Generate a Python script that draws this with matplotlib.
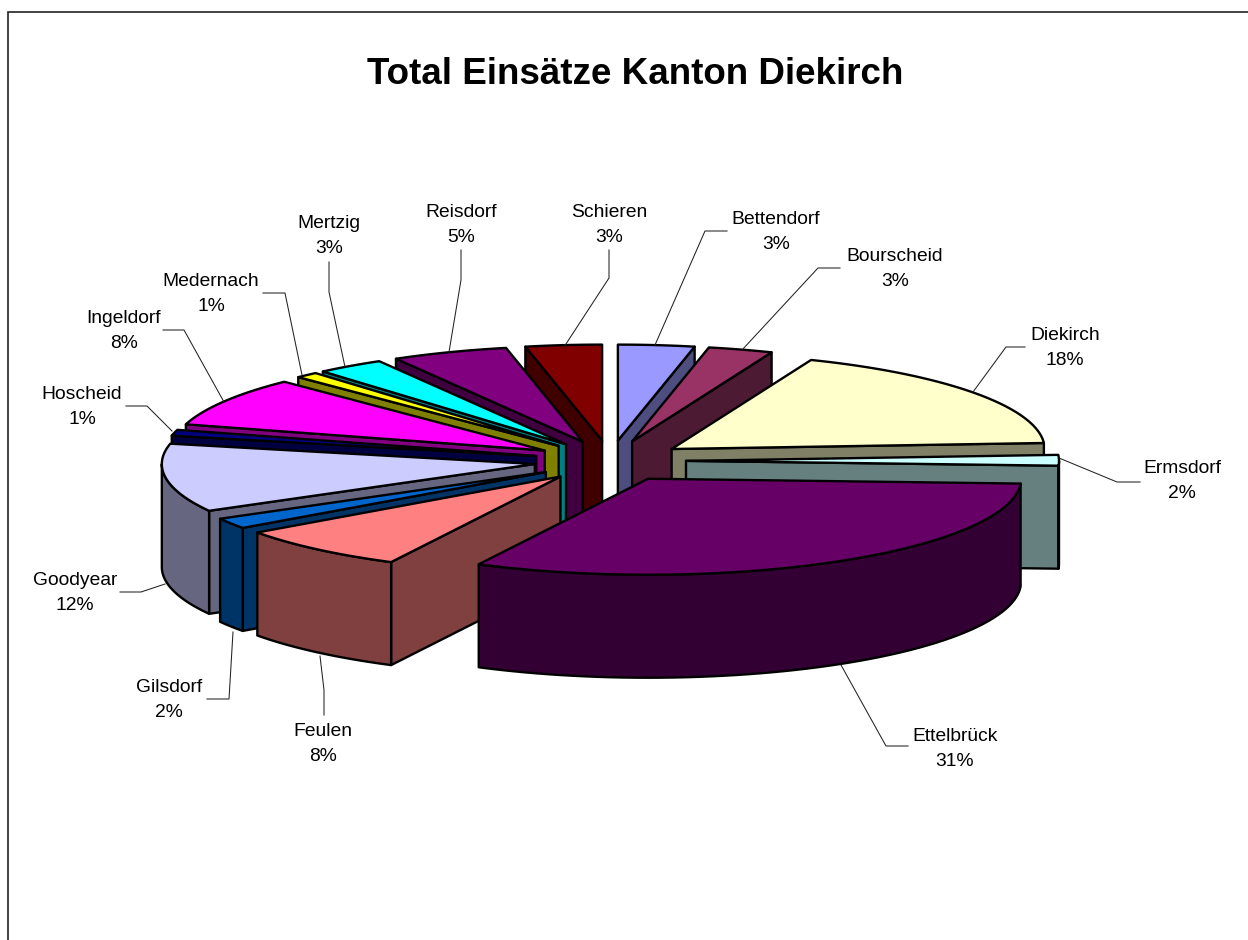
import numpy as np
import matplotlib
matplotlib.use("Agg")
import matplotlib.pyplot as plt
from matplotlib.colors import to_rgb
from matplotlib.patches import Polygon

plt.rcParams['font.family'] = ['Liberation Sans', 'DejaVu Sans']

names = ["Bettendorf", "Bourscheid", "Diekirch", "Ermsdorf", "Ettelbrück", "Feulen", "Gilsdorf",
         "Goodyear", "Hoscheid", "Ingeldorf", "Medernach", "Mertzig", "Reisdorf", "Schieren"]
# slice sizes as measured on the picture, the printed labels are separate
values = [3.3, 2.8, 17.9, 1.8, 31.7, 7.6, 1.8, 11.5, 1.0, 8.3, 1.0, 2.95, 5.05, 3.3]
pct_labels = ["3%", "3%", "18%", "2%", "31%", "8%", "2%", "12%", "1%", "8%", "1%", "3%", "5%", "3%"]
colors = ["#9999FF", "#993366", "#FFFFCC", "#CCFFFF", "#660066", "#FF8080", "#0066CC",
          "#CCCCFF", "#000080", "#FF00FF", "#FFFF00", "#00FFFF", "#800080", "#800000"]

# label centre and leader line, in pixels
label_pos = [(776, 232), (895, 269), (1065, 348), (1182, 481), (955, 749), (323, 744), (169, 700),
             (75, 593), (82, 407), (124, 331), (211, 294), (329, 236), (461, 225), (609, 225)]
leaders = [[(655, 345), (705, 231), (727, 231)],
           [(742, 350), (818, 268), (840, 268)],
           [(973, 392), (1006, 347), (1025, 347)],
           [(1059, 458), (1117, 482), (1140, 482)],
           [(841, 665), (886, 746), (908, 746)],
           [(320, 656), (324, 690), (324, 715)],
           [(233, 632), (229, 699), (207, 699)],
           [(165, 584), (141, 592), (120, 592)],
           [(172, 431), (147, 406), (126, 406)],
           [(224, 402), (184, 330), (163, 330)],
           [(302, 375), (285, 293), (263, 293)],
           [(345, 367), (329, 292), (329, 262)],
           [(449, 352), (461, 280), (461, 250)],
           [(564, 347), (609, 278), (609, 250)]]

# pie geometry
cx, cy = 610, 461
rx, ry = 373, 96
ex, ey = 76, 20.5
depth = 103

fig = plt.figure(figsize=(12.48, 9.4), dpi=100)
ax = fig.add_axes([0, 0, 1, 1])
ax.set_xlim(0, 1248)
ax.set_ylim(940, 0)
ax.axis('off')

# frame: only top and left are in the picture
ax.plot([8, 8, 1248], [940, 12, 12], color='#222222', lw=1.2, solid_joinstyle='miter')


def face(pts, col):
    ax.add_patch(Polygon(pts, closed=True, facecolor=col, edgecolor='black', lw=1.7, joinstyle='round'))


fracs = np.array(values) / sum(values)
ends = np.cumsum(fracs) * 2 * np.pi
starts = ends - fracs * 2 * np.pi
mids = (starts + ends) / 2

# back slices first
for i in np.argsort(-np.cos(mids)):
    t0, t1, tm = starts[i], ends[i], mids[i]
    ax0 = cx + ex * np.sin(tm)
    ay0 = cy - ey * np.cos(tm)
    top = to_rgb(colors[i])
    wall = tuple(c * 0.5 for c in top)

    def rim(t):
        return ax0 + rx * np.sin(t), ay0 - ry * np.cos(t)

    if np.sin(t0) < 0:
        x, y = rim(t0)
        face([(ax0, ay0), (x, y), (x, y + depth), (ax0, ay0 + depth)], wall)
    if np.sin(t1) > 0:
        x, y = rim(t1)
        face([(ax0, ay0), (x, y), (x, y + depth), (ax0, ay0 + depth)], wall)

    # outer wall, only the part that faces the front
    a, b = max(t0, np.pi / 2), min(t1, 1.5 * np.pi)
    if b > a:
        xs, ys = rim(np.linspace(a, b, 60))
        face(list(zip(xs, ys)) + list(zip(xs[::-1], ys[::-1] + depth)), wall)

    xs, ys = rim(np.linspace(t0, t1, 80))
    face([(ax0, ay0)] + list(zip(xs, ys)), top)

for i, name in enumerate(names):
    pts = np.array(leaders[i])
    ax.plot(pts[:, 0], pts[:, 1], color='#222222', lw=0.75)
    ax.text(label_pos[i][0], label_pos[i][1], f"{name}\n{pct_labels[i]}", ha='center', va='center',
            fontsize=13.9, color='black', linespacing=1.6)

ax.text(635, 74, "Total Einsätze Kanton Diekirch", ha='center', va='center', fontsize=26.5,
        fontweight='bold', color='black')

fig.savefig("out.png", dpi=100)
